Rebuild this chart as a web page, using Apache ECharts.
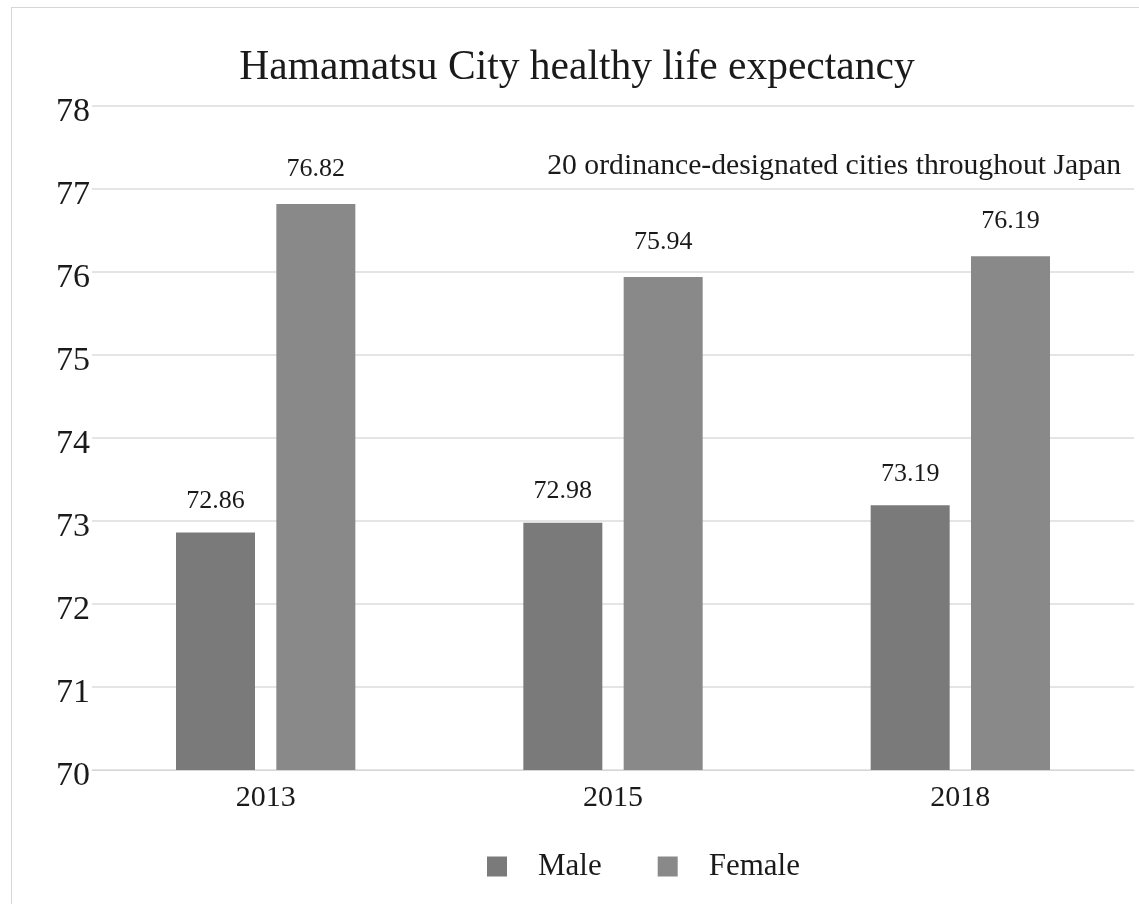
<!DOCTYPE html>
<html lang="en">
<head>
    <meta charset="UTF-8">
    <title>Hamamatsu City healthy life expectancy</title>
    <script src="https://cdn.jsdelivr.net/npm/echarts@6/dist/echarts.min.js"></script>
    <style>
        html, body { margin: 0; padding: 0; background: #fff; }
        #frame {
            position: absolute; left: 11px; top: 7px;
            width: 1140px; height: 910px;
            border: 1px solid #d6d6d6; box-sizing: border-box;
        }
        #chart { position: absolute; left: 0; top: 0; width: 1139px; height: 904px; }
    </style>
</head>
<body>
    <div id="frame"></div>
    <div id="chart"></div>
    <script>
        // 数据
        var years = ['2013', '2015', '2018'];
        var male = [72.86, 72.98, 73.19];
        var female = [76.82, 75.94, 76.19];
        var yTicks = [70, 71, 72, 73, 74, 75, 76, 77, 78];

        var font = '"Liberation Serif", "DejaVu Serif", serif';
        var myChart = echarts.init(document.getElementById('chart'));

        var option = {
            animation: false,
            textStyle: { fontFamily: font },
            title: [{
                text: 'Hamamatsu City healthy life expectancy',
                left: 572, top: 42, textAlign: 'center',
                textStyle: { fontFamily: font, fontSize: 41.5, fontWeight: 'normal', color: '#1a1a1a' }
            }, {
                text: '20 ordinance-designated cities throughout Japan',
                right: 13, top: 146,
                textStyle: { fontFamily: font, fontSize: 29.7, fontWeight: 'normal', color: '#1a1a1a' }
            }],
            legend: {
                data: ['Male', 'Female'],
                top: 846, left: 482,
                icon: 'rect', itemWidth: 20, itemHeight: 20, itemGap: 56,
                textStyle: { fontFamily: font, fontSize: 31, color: '#1a1a1a', padding: [0, 0, 0, 26] }
            },
            grid: { left: 92, right: 5, top: 106, bottom: 134 },
            xAxis: {
                type: 'category',
                data: years,
                axisLine: { lineStyle: { color: '#d6d6d6' } },
                axisTick: { show: false },
                axisLabel: { fontFamily: font, fontSize: 30, color: '#1a1a1a', margin: 13 }
            },
            yAxis: {
                type: 'value',
                min: yTicks[0], max: yTicks[yTicks.length - 1], interval: 1,
                axisLine: { show: false },
                axisTick: { show: false },
                splitLine: { lineStyle: { color: '#dcdcdc', width: 1.5 } },
                axisLabel: {
                    fontFamily: font, fontSize: 34, color: '#1a1a1a', margin: 2,
                    verticalAlign: 'top', padding: [-11, 0, 0, 0]
                }
            },
            series: [{
                name: 'Male',
                type: 'bar',
                data: male,
                barWidth: 79,
                barGap: '27%',
                itemStyle: { color: '#7a7a7a' },
                label: {
                    show: true, position: 'top', distance: 18,
                    fontFamily: font, fontSize: 26, color: '#1a1a1a'
                }
            }, {
                name: 'Female',
                type: 'bar',
                data: female,
                barWidth: 79,
                itemStyle: { color: '#898989' },
                label: {
                    show: true, position: 'top', distance: 22,
                    fontFamily: font, fontSize: 26, color: '#1a1a1a'
                }
            }]
        };
        myChart.setOption(option);
    </script>
</body>
</html>
